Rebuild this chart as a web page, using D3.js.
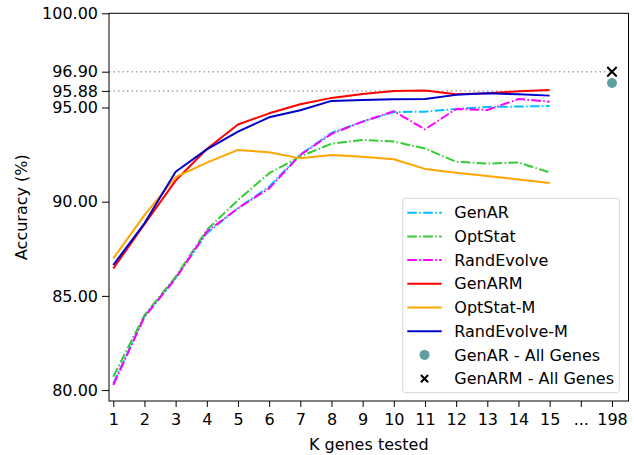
<!DOCTYPE html>
<html>
<head>
<meta charset="utf-8">
<script src="https://cdn.jsdelivr.net/npm/d3@7"></script>
<style>
  body { margin: 0; background: #fff; }
  svg text { font-family: "DejaVu Sans", sans-serif; fill: #000; }
</style>
</head>
<body>
<svg id="chart" width="634" height="455"></svg>
<script>
// x categories (index 1..17), last two are "..." and 198
const kLabels = ['1','2','3','4','5','6','7','8','9','10','11','12','13','14','15','...','198'];
const kSteps = [1,2,3,4,5,6,7,8,9,10,11,12,13,14,15];

const genAR       = [80.35, 83.90, 85.95, 88.33, 89.65, 90.80, 92.50, 93.65, 94.25, 94.76, 94.78, 94.92, 95.03, 95.05, 95.08];
const optStat     = [80.71, 83.98, 86.02, 88.50, 90.09, 91.51, 92.40, 93.08, 93.28, 93.19, 92.82, 92.12, 92.02, 92.08, 91.55];
const randEvolve  = [80.27, 83.89, 85.93, 88.41, 89.65, 90.71, 92.48, 93.60, 94.25, 94.80, 93.84, 94.92, 94.87, 95.45, 95.31];
const genARM      = [86.46, 88.80, 91.12, 92.80, 94.10, 94.69, 95.17, 95.51, 95.72, 95.88, 95.90, 95.70, 95.76, 95.86, 95.93];
const optStatM    = [86.99, 89.29, 91.30, 92.07, 92.75, 92.62, 92.30, 92.48, 92.38, 92.25, 91.74, 91.54, 91.36, 91.18, 90.99];
const randEvolveM = [86.64, 88.85, 91.59, 92.78, 93.72, 94.48, 94.85, 95.35, 95.40, 95.44, 95.45, 95.67, 95.76, 95.70, 95.63];

const allGenesIndex = 17;     // position of "198"
const genARAll = 96.30;
const genARMAll = 96.90;

const yTicks = [80, 85, 90, 95, 95.88, 96.90, 100];
const refLines = [{ v: 96.90, to: 17 }, { v: 95.88, to: 15 }];

const series = [
  { name: 'GenAR',        data: genAR,       color: '#00bfff', dash: '9.6,2.4,1.5,2.4' },
  { name: 'OptStat',      data: optStat,     color: '#32cd32', dash: '9.6,2.4,1.5,2.4' },
  { name: 'RandEvolve',   data: randEvolve,  color: '#ff00ff', dash: '9.6,2.4,1.5,2.4' },
  { name: 'GenARM',       data: genARM,      color: '#ff0000', dash: null },
  { name: 'OptStat-M',    data: optStatM,    color: '#ffa500', dash: null },
  { name: 'RandEvolve-M', data: randEvolveM, color: '#0000cd', dash: null }
];

const svg = d3.select('#chart');
const frame = { left: 109, right: 628.5, top: 13.3, bottom: 401 };
const fontSize = '16px';

// x: index 1 sits 4.3px in from the left frame, 17 sits ~16px in from the right
const x = d3.scaleLinear().domain([0.862, 17.53]).range([frame.left, frame.right]);
const y = d3.scaleLinear().domain([79.42, 100]).range([frame.bottom, frame.top]);

// reference dotted lines
svg.append('g').selectAll('line')
    .data(refLines)
    .enter()
    .append('line')
    .attr('x1', frame.left)
    .attr('x2', d => x(d.to))
    .attr('y1', d => y(d.v))
    .attr('y2', d => y(d.v))
    .attr('stroke', '#a8a8a8')
    .attr('stroke-width', 1.5)
    .attr('stroke-dasharray', '1.5,3');

// series lines
const line = d3.line()
    .x((d, i) => x(kSteps[i]))
    .y(d => y(d));

svg.append('g').selectAll('path')
    .data(series)
    .enter()
    .append('path')
    .attr('d', d => line(d.data))
    .attr('fill', 'none')
    .attr('stroke', d => d.color)
    .attr('stroke-width', 2)
    .attr('stroke-linejoin', 'round')
    .attr('stroke-dasharray', d => d.dash);

// all genes markers
const cross = d3.symbol().type(d3.symbolX).size(60);
svg.append('circle')
    .attr('cx', x(allGenesIndex))
    .attr('cy', y(genARAll))
    .attr('r', 5)
    .attr('fill', '#5f9ea0');
svg.append('path')
    .attr('d', cross())
    .attr('transform', `translate(${x(allGenesIndex)},${y(genARMAll)})`)
    .attr('fill', 'none')
    .attr('stroke', '#000')
    .attr('stroke-width', 2);

// axes
const xAxis = d3.axisBottom(x)
    .tickValues(d3.range(1, kLabels.length + 1))
    .tickFormat(i => kLabels[i - 1])
    .tickSize(6)
    .tickPadding(7);
const gx = svg.append('g').attr('transform', `translate(0,${frame.bottom})`).call(xAxis);

const yAxis = d3.axisLeft(y)
    .tickValues(yTicks)
    .tickFormat(d3.format('.2f'))
    .tickSize(7)
    .tickPadding(4);
const gy = svg.append('g').attr('transform', `translate(${frame.left},0)`).call(yAxis);

[gx, gy].forEach(g => {
  g.select('.domain').remove();
  g.selectAll('.tick line').attr('stroke', '#000').attr('stroke-width', 1);
  g.selectAll('.tick text').style('font-size', fontSize).attr('fill', '#000');
});

// frame
svg.append('rect')
    .attr('x', frame.left)
    .attr('y', frame.top)
    .attr('width', frame.right - frame.left)
    .attr('height', frame.bottom - frame.top)
    .attr('fill', 'none')
    .attr('stroke', '#000')
    .attr('stroke-width', 1);

// axis labels
svg.append('text')
    .attr('x', (frame.left + frame.right) / 2)
    .attr('y', 450)
    .attr('text-anchor', 'middle')
    .style('font-size', fontSize)
    .text('K genes tested');
svg.append('text')
    .attr('transform', `translate(27,${(frame.top + frame.bottom) / 2}) rotate(-90)`)
    .attr('text-anchor', 'middle')
    .style('font-size', fontSize)
    .text('Accuracy (%)');

// legend
const legendItems = series.map(s => ({ name: s.name, color: s.color, dash: s.dash, kind: 'line' }))
    .concat([
      { name: 'GenAR - All Genes', kind: 'circle' },
      { name: 'GenARM - All Genes', kind: 'cross' }
    ]);

const legend = svg.append('g');
legend.append('rect')
    .attr('x', 402.7)
    .attr('y', 198.3)
    .attr('width', 216.6)
    .attr('height', 194.4)
    .attr('rx', 3)
    .attr('fill', '#fff')
    .attr('fill-opacity', 0.8)
    .attr('stroke', '#d6d6d6')
    .attr('stroke-width', 1);

const rows = legend.selectAll('g.row')
    .data(legendItems)
    .enter()
    .append('g')
    .attr('class', 'row')
    .attr('transform', (d, i) => `translate(0,${212.7 + i * 23.7})`);

rows.filter(d => d.kind === 'line')
    .append('line')
    .attr('x1', 407.3)
    .attr('x2', 441.7)
    .attr('stroke', d => d.color)
    .attr('stroke-width', 2)
    .attr('stroke-dasharray', d => d.dash);

rows.filter(d => d.kind === 'circle')
    .append('circle')
    .attr('cx', 424.5)
    .attr('r', 5)
    .attr('fill', '#5f9ea0');

rows.filter(d => d.kind === 'cross')
    .append('path')
    .attr('d', d3.symbol().type(d3.symbolX).size(36)())
    .attr('transform', 'translate(424.5,0)')
    .attr('fill', 'none')
    .attr('stroke', '#000')
    .attr('stroke-width', 2);

rows.append('text')
    .attr('x', 454.3)
    .attr('dy', '0.35em')
    .style('font-size', fontSize)
    .text(d => d.name);
</script>
</body>
</html>
